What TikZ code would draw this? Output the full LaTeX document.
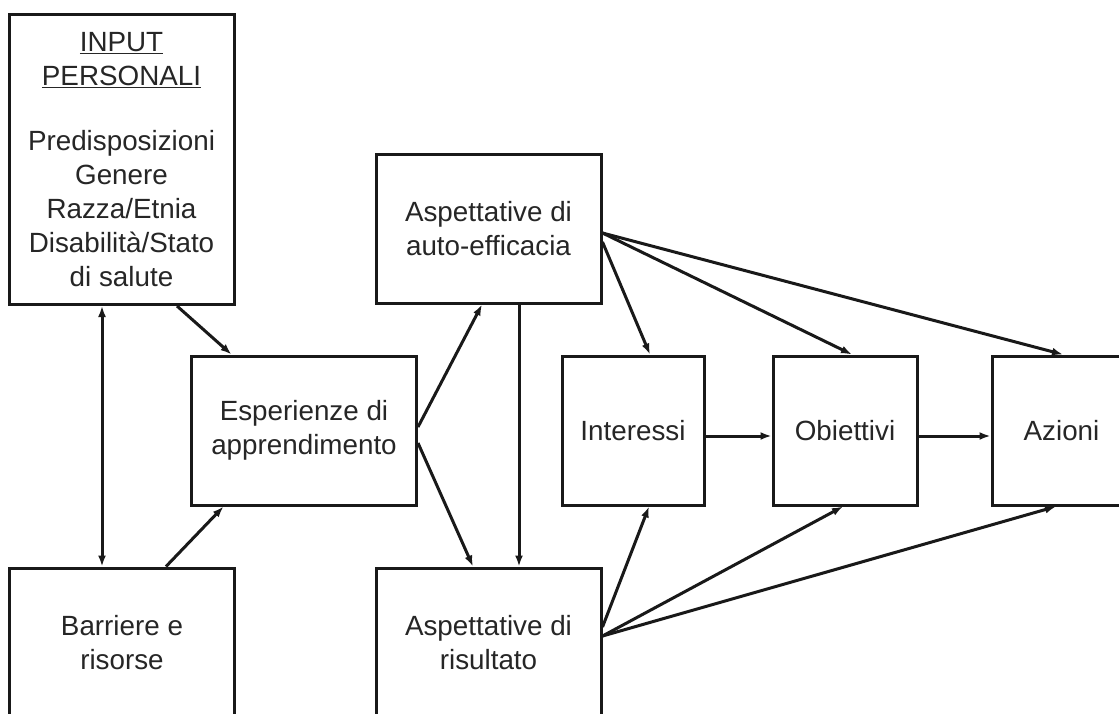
\documentclass[tikz,border=0pt]{standalone}
\usepackage{fontspec}
\setmainfont{Liberation Sans}
\usetikzlibrary{arrows.meta}
\usetikzlibrary{positioning}

\begin{document}
\begin{tikzpicture}[x=1pt,y=-1pt,line width=3pt,>={Latex[length=11pt,width=8pt]},
  box/.style={draw=black!90,align=center,inner sep=0pt,minimum width=225pt,
    minimum height=149pt,text=black!85,font=\fontsize{27.8pt}{34pt}\selectfont},
  arr/.style={->,draw=black!90}]
\clip (0,0) rectangle (1119,713); % page size
\fill[white] (0,0) rectangle (1119,713);
% boxes
\node[box,minimum height=290pt] (inp) at (121.5,159.5) {\underline{INPUT}\\\underline{PERSONALI}\\[31pt]Predisposizioni\\Genere\\Razza/Etnia\\Disabilità/Stato\\di salute};
\node[box] (esp) at (304,430.5) {Esperienze di\\apprendimento};
\node[box,minimum height=150pt] (barr) at (122,643) {Barriere e\\risorse};
\node[box] (auto) at (488.5,228.5) {Aspettative di\\auto-efficacia};
\node[box,minimum height=150pt] (ris) at (488.5,643) {Aspettative di\\risultato};
\node[box,minimum width=142pt] (int) at (633,430.5) {Interessi};
\node[box,minimum width=144pt] (obi) at (845,430.5) {Obiettivi};
\node[box,minimum width=139pt] (azi) at (1061.5,430.5) {Azioni};
% left part
\draw[arr] ([xshift=55.5pt]inp.south) -- ([xshift=41.5pt]esp.north west);
\draw[arr,<->] ([xshift=-19.5pt]inp.south) -- ([xshift=-20pt]barr.north);
\draw[arr] ([xshift=44pt]barr.north) -- ([xshift=33.5pt]esp.south west);
\draw[arr] ([yshift=3.5pt]esp.east) -- ([xshift=-6.5pt]auto.south);
\draw[arr] ([yshift=-12.5pt]esp.east) -- ([xshift=-15.5pt]ris.north);
\draw[arr] ([xshift=30.5pt]auto.south) -- ([xshift=30.5pt]ris.north);
% right part
\foreach \nd/\dy/\dx in {int/-13.5/17, obi/-4.5/7, azi/-4.5/1.5}
\draw[arr] ([yshift=\dy pt]auto.east) -- ([xshift=\dx pt]\nd.north);
\foreach \nd/\dy/\dx in {int/16/16, obi/7/-2, azi/7/-5.5}
\draw[arr] ([yshift=\dy pt]ris.east) -- ([xshift=\dx pt]\nd.south);
\foreach \a/\b in {int/obi, obi/azi}
\draw[arr] ([yshift=-5.5pt]\a.east) -- ([yshift=-5.5pt]\b.west);
\end{tikzpicture}
\end{document}
